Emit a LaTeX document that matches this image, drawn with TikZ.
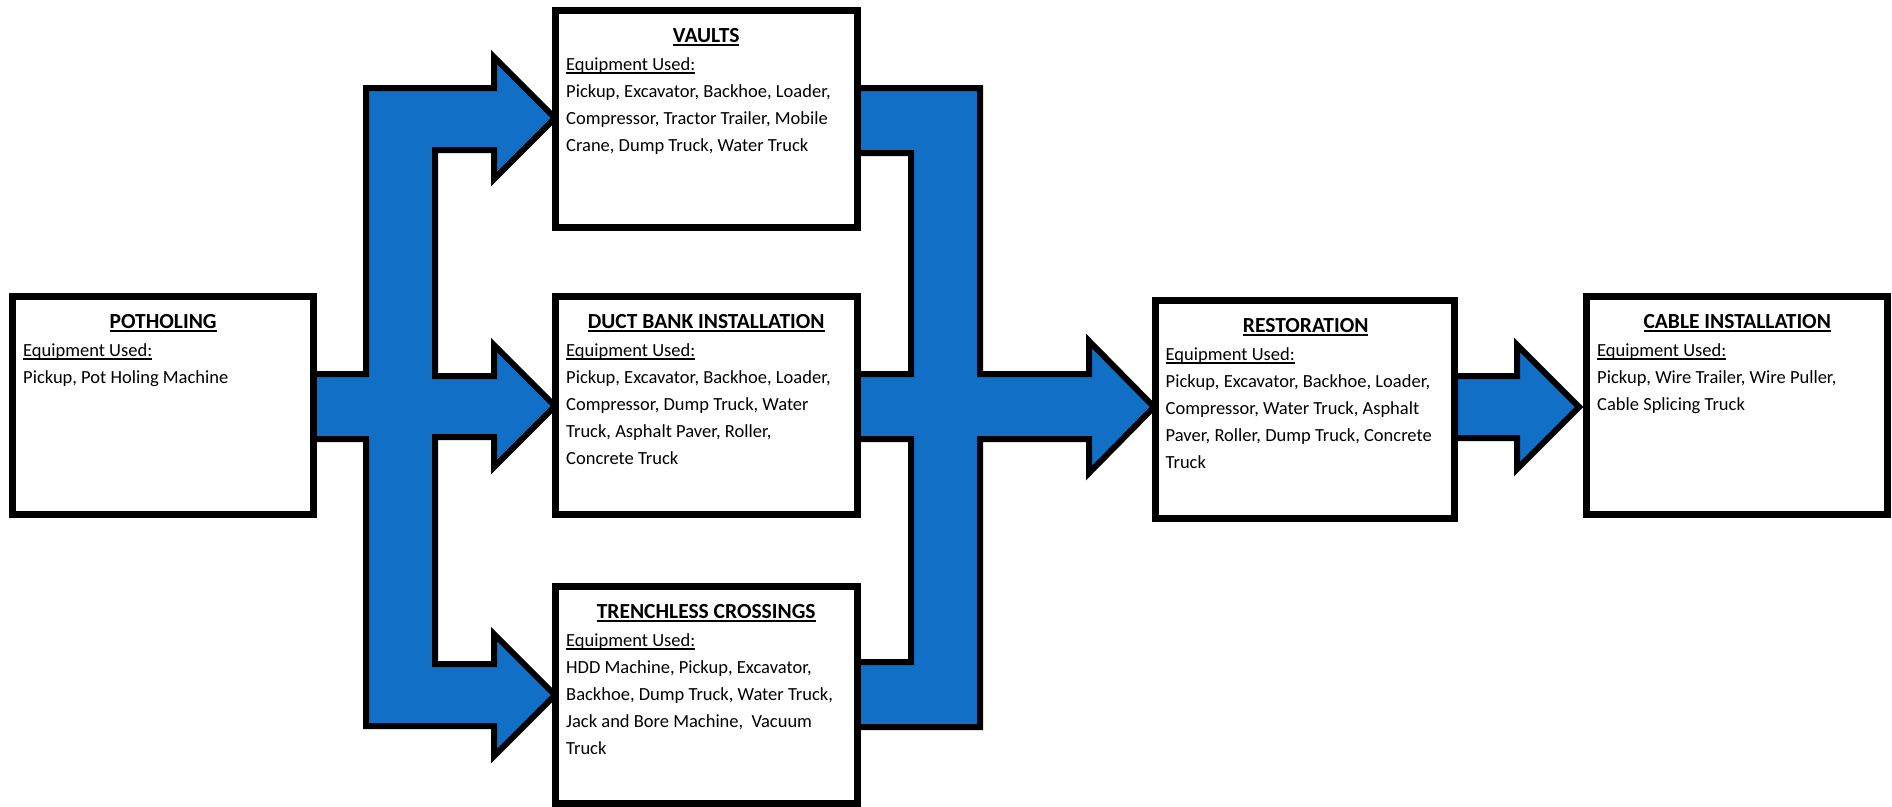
\documentclass[tikz,border=0pt]{standalone}
\usepackage{fontspec}
\setmainfont{Carlito}
\definecolor{flowblue}{RGB}{17,111,197}
\newcommand{\myul}[1]{\leavevmode\setbox0\hbox{#1}\rlap{\rule[-3.5pt]{\wd0}{2pt}}\box0}
\newcommand{\boxtitle}[1]{\makebox[280pt][c]{\rule{0pt}{20pt}\fontsize{21.5}{27}\selectfont\bfseries\myul{#1}}\\[1pt]\myul{Equipment Used:}}
\begin{document}
\begin{tikzpicture}[x=1pt,y=-1pt,
  stagebox/.style={draw=black,line width=7pt,fill=white,inner sep=0pt},
  stagetext/.style={anchor=north west,inner sep=0pt,align=left,font=\fontsize{18.5}{27}\selectfont},
  flowshape/.style={draw=black,line width=6pt,fill=flowblue,line join=miter,miter limit=10}]
\useasboundingbox (0,0) rectangle (1892,806);

% blue block arrows
\draw[flowshape] (313,374) -- (366,374) -- (366,88) -- (494,88) -- (494,57) -- (555,118) -- (494,179) -- (494,150) -- (435,150) -- (435,376) -- (494,376) -- (494,345) -- (555,406) -- (494,467) -- (494,437) -- (435,437) -- (435,664) -- (494,664) -- (494,634) -- (555,695) -- (494,756) -- (494,726) -- (366,726) -- (366,439) -- (313,439) -- cycle;
\draw[flowshape] (857,88) -- (980,88) -- (980,374) -- (1089,374) -- (1089,341) -- (1154,407) -- (1089,473) -- (1089,439) -- (980,439) -- (980,727) -- (857,727) -- (857,662) -- (911,662) -- (911,439) -- (857,439) -- (857,374) -- (911,374) -- (911,153) -- (857,153) -- cycle;
\draw[flowshape] (1455,376) -- (1517,376) -- (1517,345) -- (1579,407) -- (1517,469) -- (1517,438) -- (1455,438) -- cycle;

% boxes
\node[stagebox,minimum width=301pt,minimum height=217.5pt] (pot) at (163,405.25) {};
\node[stagebox,minimum width=302pt,minimum height=217pt] (vau) at (706,118.5) {};
\node[stagebox,minimum width=302pt,minimum height=217.5pt] (duc) at (706,405.25) {};
\node[stagebox,minimum width=302pt,minimum height=217pt] (tre) at (706,694.5) {};
\node[stagebox,minimum width=299pt,minimum height=218pt] (res) at (1304.5,409) {};
\node[stagebox,minimum width=301pt,minimum height=218pt] (cab) at (1736.5,405.5) {};

% texts
\node[stagetext] (potT) at (23,308.5) {\boxtitle{POTHOLING}\\Pickup, Pot Holing Machine};
\node[stagetext] (vauT) at (566,22) {\boxtitle{VAULTS}\\Pickup, Excavator, Backhoe, Loader,\\Compressor, Tractor Trailer, Mobile\\Crane, Dump Truck, Water Truck};
\node[stagetext] (ducT) at (566,308.5) {\boxtitle{DUCT BANK INSTALLATION}\\Pickup, Excavator, Backhoe, Loader,\\Compressor, Dump Truck, Water\\Truck, Asphalt Paver, Roller,\\Concrete Truck};
\node[stagetext] (treT) at (566,598) {\boxtitle{TRENCHLESS CROSSINGS}\\HDD Machine, Pickup, Excavator,\\Backhoe, Dump Truck, Water Truck,\\Jack and Bore Machine,~ Vacuum\\Truck};
\node[stagetext] (resT) at (1165.5,312) {\boxtitle{RESTORATION}\\Pickup, Excavator, Backhoe, Loader,\\Compressor, Water Truck, Asphalt\\Paver, Roller, Dump Truck, Concrete\\Truck};
\node[stagetext] (cabT) at (1597,308.5) {\boxtitle{CABLE INSTALLATION}\\Pickup, Wire Trailer, Wire Puller,\\Cable Splicing Truck};
\end{tikzpicture}
\end{document}
